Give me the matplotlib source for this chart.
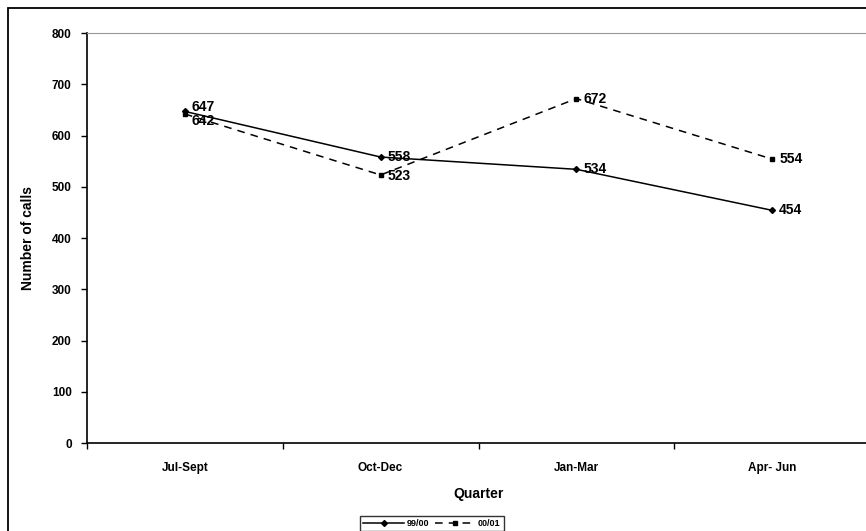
import matplotlib
matplotlib.use("Agg")
import matplotlib.pyplot as plt
from matplotlib.patches import Rectangle


quarters = ["Jul-Sept", "Oct-Dec", "Jan-Mar", "Apr- Jun"]
calls_9900 = [647, 558, 534, 454]
calls_0001 = [642, 523, 672, 554]
series_names = ["99/00", "00/01"]
y_ticks = [0, 100, 200, 300, 400, 500, 600, 700, 800]

# label nudges (points) so the two Jul-Sept labels don't sit on each other
nudge_9900 = [3, 0, 0, 0]
nudge_0001 = [-5, -1, 0, 0]

plt.rcParams["font.family"] = ["Liberation Sans", "DejaVu Sans"]
plt.rcParams["font.weight"] = "bold"

fig = plt.figure(figsize=(8.66, 5.31), dpi=100)
fig.patches.append(Rectangle((8 / 866, -0.1), 1.2, 1 - 8 / 531 + 0.1,
                             transform=fig.transFigure, fill=False,
                             edgecolor="black", linewidth=1.3))

ax = fig.add_axes([87 / 866, 1 - 443 / 531, 783 / 866, 410 / 531])

x = list(range(len(quarters)))
ax.plot(x, calls_9900, color="black", linewidth=1.1, marker="D",
        markersize=3, label=series_names[0])
ax.plot(x, calls_0001, color="black", linewidth=1.1, linestyle=(0, (5, 4)),
        marker="s", markersize=2.5, label=series_names[1])

for i in x:
    ax.annotate(str(calls_9900[i]), (i, calls_9900[i]), xytext=(5, nudge_9900[i]),
                textcoords="offset points", va="center", ha="left",
                fontsize=10, fontweight="bold")
    ax.annotate(str(calls_0001[i]), (i, calls_0001[i]), xytext=(5, nudge_0001[i]),
                textcoords="offset points", va="center", ha="left",
                fontsize=10, fontweight="bold")

ax.set_xlim(-0.5, len(quarters) - 0.5)
ax.set_ylim(0, 800)
ax.set_yticks(y_ticks)
ax.set_xticks(x)
ax.set_xticklabels(quarters)
ax.set_xticks([i + 0.5 for i in range(-1, len(quarters))], minor=True)
ax.tick_params(axis="x", which="major", length=0, pad=14, labelsize=8.5)
ax.tick_params(axis="x", which="minor", length=4, width=1, direction="out")
ax.tick_params(axis="y", length=4, width=1, direction="out", labelsize=8.5, pad=7)

ax.spines["right"].set_visible(False)
ax.spines["top"].set_color("#999999")
ax.spines["top"].set_linestyle((0, (1, 1)))
ax.spines["top"].set_linewidth(0.8)
ax.spines["left"].set_linewidth(1.2)
ax.spines["bottom"].set_linewidth(1.2)

ax.set_xlabel("Quarter", fontsize=10, fontweight="bold", labelpad=9)
ax.set_ylabel("Number of calls", fontsize=10, fontweight="bold", labelpad=12)

leg = fig.legend(loc="upper center", bbox_to_anchor=(432 / 866, 1 - 511 / 531),
                 ncol=2, fontsize=6.5, frameon=True, fancybox=False,
                 handlelength=4.5, columnspacing=0.6, handletextpad=0.3,
                 borderpad=0.35)
leg.get_frame().set_edgecolor("black")
leg.get_frame().set_linewidth(1.0)

fig.savefig("out.png", dpi=100)
